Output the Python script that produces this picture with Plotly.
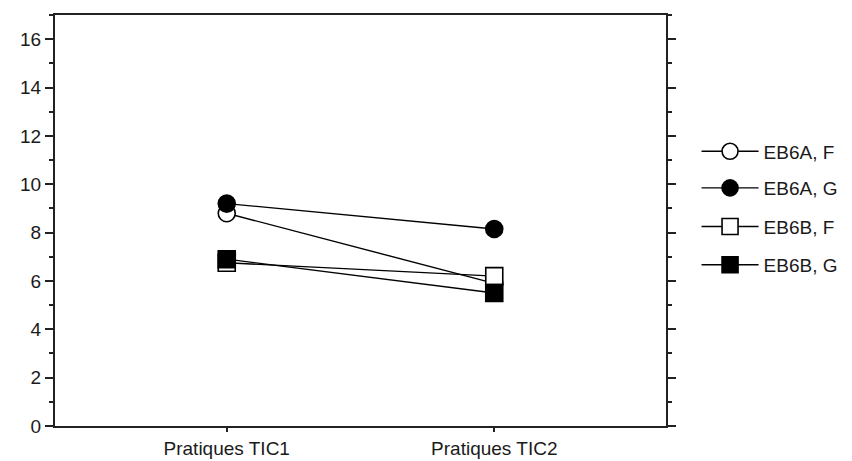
import plotly.graph_objects as go

categories = ["Pratiques TIC1", "Pratiques TIC2"]
series_names = ["EB6A, F", "EB6A, G", "EB6B, F", "EB6B, G"]
eb6a_f = [8.8, 5.9]
eb6a_g = [9.2, 8.15]
eb6b_f = [6.75, 6.2]
eb6b_g = [6.9, 5.5]
y_ticks = [0, 2, 4, 6, 8, 10, 12, 14, 16]

values = [eb6a_f, eb6a_g, eb6b_f, eb6b_g]
symbols = ["circle", "circle", "square", "square"]
fills = ["white", "black", "white", "black"]
legend_ids = ["legend", "legend2", "legend3", "legend4"]
legend_y = [0.668, 0.579, 0.485, 0.392]

FONT = "Liberation Sans, Arial, sans-serif"
TXT = "#1a1a1a"
FS = 19

fig = go.Figure()
for name, vals, sym, fc, lid in zip(series_names, values, symbols, fills, legend_ids):
    fig.add_trace(go.Scatter(
        x=[0, 1], y=vals, name=name, mode="lines+markers",
        line=dict(color="black", width=1.4),
        marker=dict(symbol=sym, size=17, color=fc,
                    line=dict(color="black", width=1.6)),
        legend=lid, showlegend=True,
    ))

layout_legends = {}
for lid, ly in zip(legend_ids, legend_y):
    layout_legends[lid] = dict(
        x=1.05, y=ly, xanchor="left", yanchor="middle",
        font=dict(family=FONT, size=FS, color=TXT),
        bgcolor="rgba(0,0,0,0)", itemwidth=57,
    )

fig.update_layout(
    width=852, height=461,
    margin=dict(l=55, r=186, t=15, b=35, autoexpand=False),
    paper_bgcolor="white", plot_bgcolor="white",
    font=dict(family=FONT, size=FS, color=TXT),
    xaxis=dict(
        range=[-0.642, 1.642], tickvals=[0, 1], ticktext=categories,
        showgrid=False, zeroline=False, automargin=False,
        showline=True, linecolor="#222", linewidth=2, mirror=True,
        ticks="outside", ticklen=4, tickwidth=1.5, tickcolor="#222",
        tickfont=dict(family=FONT, size=FS, color=TXT),
    ),
    yaxis=dict(
        range=[0, 17], tickvals=y_ticks,
        showgrid=False, zeroline=False, automargin=False,
        showline=True, linecolor="#222", linewidth=2, mirror="ticks",
        ticks="outside", ticklen=8, tickwidth=1.5, tickcolor="#222",
        minor=dict(dtick=1, ticks="outside", ticklen=4, tickwidth=1.5,
                   tickcolor="#222", showgrid=False),
        tickfont=dict(family=FONT, size=FS, color=TXT),
    ),
    **layout_legends,
)

fig.write_html("out.html")
